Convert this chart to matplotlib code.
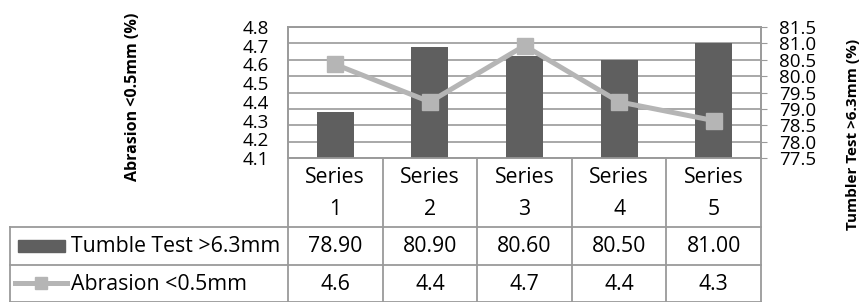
import matplotlib
matplotlib.use("Agg")
import matplotlib.pyplot as plt
from matplotlib.patches import Rectangle

categories = ["Series\n1", "Series\n2", "Series\n3", "Series\n4", "Series\n5"]
tumble = [78.90, 80.90, 80.60, 80.50, 81.00]
abrasion = [4.6, 4.4, 4.7, 4.4, 4.3]
tumble_labels = ["78.90", "80.90", "80.60", "80.50", "81.00"]
abrasion_labels = ["4.6", "4.4", "4.7", "4.4", "4.3"]
left_ticks = [4.1, 4.2, 4.3, 4.4, 4.5, 4.6, 4.7, 4.8]
right_ticks = [77.5, 78.0, 78.5, 79.0, 79.5, 80.0, 80.5, 81.0, 81.5]
series_names = ["Tumble Test >6.3mm", "Abrasion <0.5mm"]

plt.rcParams['font.family'] = ['Open Sans', 'DejaVu Sans']

W, H = 864, 302
fig = plt.figure(figsize=(W / 100, H / 100), dpi=100)

L, R, T, B = 288, 761, 27, 158
ax = fig.add_axes([L / W, 1 - B / H, (R - L) / W, (B - T) / H])
ax2 = ax.twinx()

bar_c = "#5f5f5f"
line_c = "#b5b5b5"
grid_c = "#9a9a9a"
x = list(range(len(categories)))

ax.bar(x, tumble, width=0.39, color=bar_c, zorder=3)
ax.set_ylim(77.5, 81.5)
ax.set_xlim(-0.5, len(categories) - 0.5)
ax.set_yticks(right_ticks)
ax.set_yticklabels([f"{v:.1f}" for v in right_ticks])
ax.yaxis.tick_right()
ax.yaxis.set_label_position("right")
ax.grid(axis="y", color=grid_c, linewidth=1.2, zorder=0)
ax.set_axisbelow(True)
ax.set_xticks([])
ax.tick_params(axis="y", direction="out", length=4, color=grid_c, labelsize=13.5, pad=9)

ax2.plot(x, abrasion, color=line_c, linewidth=3.6, marker="s", markersize=11.5,
         markerfacecolor=line_c, markeredgecolor=line_c, zorder=5)
ax2.set_ylim(4.1, 4.8)
ax2.set_yticks(left_ticks)
ax2.set_yticklabels([f"{v:.1f}" for v in left_ticks])
ax2.yaxis.tick_left()
ax2.tick_params(axis="y", length=0, labelsize=13.5, pad=13.5)
ax2.set_xticks([])

for a in (ax, ax2):
    for s in a.spines.values():
        s.set_color(grid_c)
        s.set_linewidth(1.2)

fig.text(133 / W, 1 - 97 / H, "Abrasion <0.5mm (%)", rotation=90, ha="center", va="center",
         fontsize=11.5, fontweight="bold")
fig.text(853 / W, 1 - 134 / H, "Tumbler Test >6.3mm (%)", rotation=90, ha="center", va="center",
         fontsize=11.0, fontweight="bold")

# data table in pixel coordinates
ov = fig.add_axes([0, 0, 1, 1], zorder=10)
ov.set_xlim(0, W)
ov.set_ylim(H, 0)
ov.axis("off")
ov.patch.set_alpha(0)

colw = (R - L) / len(categories)
r0, r1, r2, r3 = B, 227, 265, 302
lc = grid_c
lw = 1.3
for i in range(len(categories) + 1):
    xx = L + i * colw
    ov.plot([xx, xx], [r0, r3], color=lc, lw=lw)
ov.plot([10, 10], [r1, r3], color=lc, lw=lw)
ov.plot([10, R], [r1, r1], color=lc, lw=lw)
ov.plot([10, R], [r2, r2], color=lc, lw=lw)
ov.plot([10, R], [r3 - 0.5, r3 - 0.5], color=lc, lw=lw)

fs = 15.3
for i, c in enumerate(categories):
    cx = L + (i + 0.5) * colw
    ov.text(cx, (r0 + r1) / 2 + 1, c, ha="center", va="center", fontsize=fs, linespacing=1.65)
    ov.text(cx, (r1 + r2) / 2 + 1, tumble_labels[i], ha="center", va="center", fontsize=fs)
    ov.text(cx, (r2 + r3) / 2 + 1, abrasion_labels[i], ha="center", va="center", fontsize=fs)

ov.add_patch(Rectangle((18, 240), 47, 12, color=bar_c))
ov.text(71, (r1 + r2) / 2 + 1, series_names[0], ha="left", va="center", fontsize=fs)
ov.plot([15, 67], [283, 283], color=line_c, lw=3.6)
ov.plot([41], [283], marker="s", markersize=9, color=line_c)
ov.text(71, (r2 + r3) / 2 + 1, series_names[1], ha="left", va="center", fontsize=fs)

fig.savefig("out.png", dpi=100)
